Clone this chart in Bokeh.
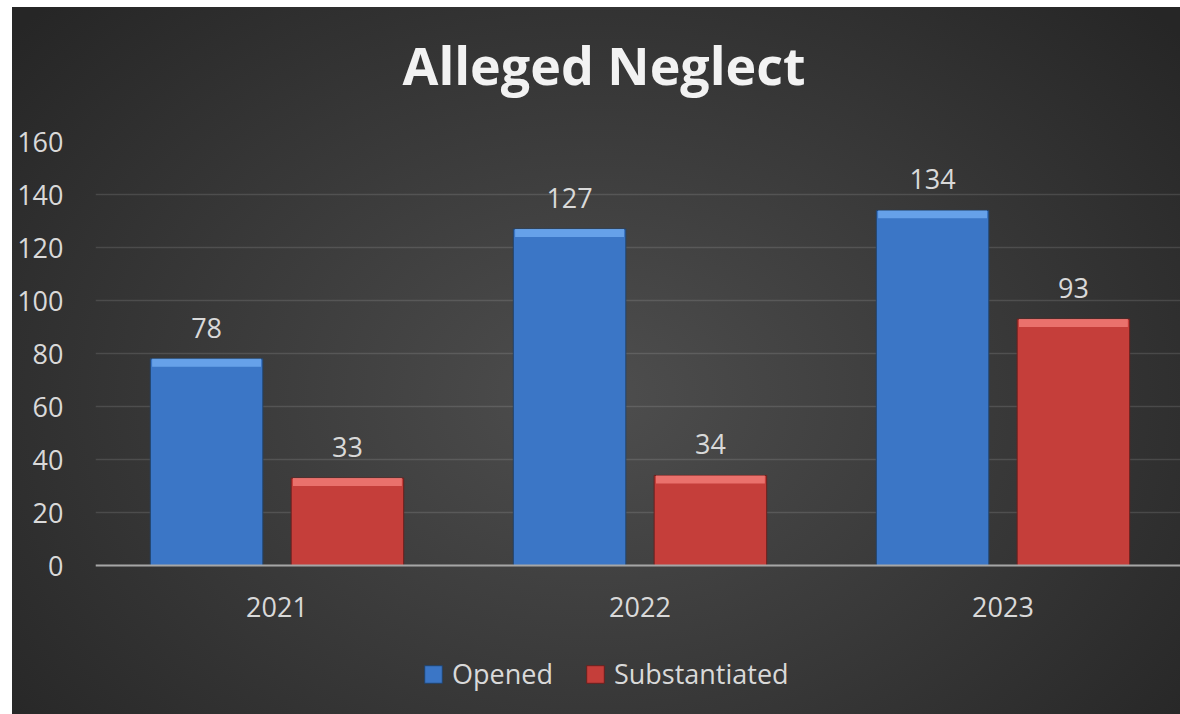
from bokeh.plotting import figure
from bokeh.models import Range1d, FixedTicker, Legend, LegendItem, ColumnDataSource, LinearAxis, Title
from bokeh.transform import dodge
from bokeh.core.properties import value
from bokeh.embed import file_html
from bokeh.resources import INLINE

# ---- data ----
title_text = "Alleged Neglect"
years = ["2021", "2022", "2023"]
opened = [78, 127, 134]
substantiated = [33, 34, 93]
series_names = ["Opened", "Substantiated"]
y_ticks = [0, 20, 40, 60, 80, 100, 120, 140, 160]

FONT = "Open Sans"
TXT = "#d9d9d9"
W, H = 1168, 707

idx = list(range(len(years)))
src = ColumnDataSource(dict(
    x=idx,
    opened=opened,
    subst=substantiated,
    opened_hl=[v - 3.0 for v in opened],
    subst_hl=[v - 3.0 for v in substantiated],
    opened_lbl=[str(v) for v in opened],
    subst_lbl=[str(v) for v in substantiated],
))

p = figure(width=W, height=H, output_backend="svg", toolbar_location=None, title=None,
           x_range=Range1d(-0.5, 2.489), y_range=Range1d(-56.2, 160),
           min_border_left=83, min_border_right=0, min_border_top=134,
           min_border_bottom=0)
p.background_fill_color = None
p.border_fill_color = None
p.outline_line_color = None
p.styles = {"background": "radial-gradient(ellipse 65% 80% at 50% 55%, #4e4e4e 0%, #262626 100%)",
            "margin-left": "12px", "margin-top": "7px"}

OFF = 0.194
BW = 0.31
r_open = p.vbar(x=dodge("x", -OFF, range=p.x_range), top="opened", width=BW, source=src,
                fill_color="#3b76c6", line_color="#22436b", line_width=1)
r_sub = p.vbar(x=dodge("x", OFF, range=p.x_range), top="subst", width=BW, source=src,
               fill_color="#c53e3a", line_color="#6a201e", line_width=1)
# bevel highlights
p.vbar(x=dodge("x", -OFF, range=p.x_range), top="opened", bottom="opened_hl", width=BW - 0.01,
       source=src, fill_color="#6ea9ee", line_color=None, fill_alpha=0.85)
p.vbar(x=dodge("x", OFF, range=p.x_range), top="subst", bottom="subst_hl", width=BW - 0.01,
       source=src, fill_color="#f07a76", line_color=None, fill_alpha=0.85)

# data labels
p.text(x=dodge("x", -OFF, range=p.x_range), y="opened", text="opened_lbl", source=src,
       text_align="center", text_baseline="bottom", y_offset=-21,
       text_font=value(FONT), text_font_size="27px", text_color=TXT)
p.text(x=dodge("x", OFF, range=p.x_range), y="subst", text="subst_lbl", source=src,
       text_align="center", text_baseline="bottom", y_offset=-21,
       text_font=value(FONT), text_font_size="27px", text_color=TXT)

# axes
yax = p.left[0]
yax.ticker = FixedTicker(ticks=y_ticks)
yax.axis_line_color = None
yax.major_tick_line_color = None
yax.minor_tick_line_color = None
yax.major_label_standoff = 26
yax.major_label_text_font = FONT
yax.major_label_text_font_size = "27px"
yax.major_label_text_color = TXT

xax = p.below[0]
xax.ticker = FixedTicker(ticks=idx)
xax.major_label_overrides = {i: y for i, y in zip(idx, years)}
xax.fixed_location = 0
xax.axis_line_color = "#a6a6a6"
xax.axis_line_width = 2
xax.major_tick_line_color = None
xax.minor_tick_line_color = None
xax.major_label_standoff = 25
xax.major_label_text_font = FONT
xax.major_label_text_font_size = "27px"
xax.major_label_text_color = TXT

p.xgrid.grid_line_color = None
p.ygrid.grid_line_color = "white"
p.ygrid.grid_line_alpha = 0.12
p.ygrid.grid_line_width = 1.5

# title, lifted above the plot area with bottom padding
ttl = Title(text=title_text, text_font=FONT, text_font_size="52px", text_font_style="bold",
            text_color="#f2f2f2", align="left", offset=307, standoff=10)
padded = False
if "padding" in Title.properties():
    try:
        ttl.padding = {"left": 0, "right": 0, "top": 0, "bottom": 37}
        padded = True
    except Exception:
        padded = False
if not padded:
    spacer = LinearAxis(ticker=FixedTicker(ticks=[]), axis_line_alpha=0,
                        major_tick_line_alpha=0, minor_tick_line_alpha=0,
                        major_tick_out=0, minor_tick_out=0, major_tick_in=0, minor_tick_in=0,
                        major_label_standoff=0, axis_label="\u200b",
                        axis_label_text_font_size="10px", axis_label_standoff=24)
    p.add_layout(spacer, "above")
p.add_layout(ttl, "above")

legend = Legend(items=[LegendItem(label=series_names[0], renderers=[r_open]),
                       LegendItem(label=series_names[1], renderers=[r_sub])],
                orientation="horizontal", location=(327, 22))
legend.glyph_width = 22
legend.glyph_height = 22
legend.label_standoff = 8
legend.spacing = 31
legend.padding = 10
legend.margin = 0
legend.label_text_font = FONT
legend.label_text_font_size = "27px"
legend.label_text_color = TXT
legend.background_fill_alpha = 0
legend.border_line_color = None
p.add_layout(legend, "center")

open("out.html", "w").write(file_html(p, INLINE))
